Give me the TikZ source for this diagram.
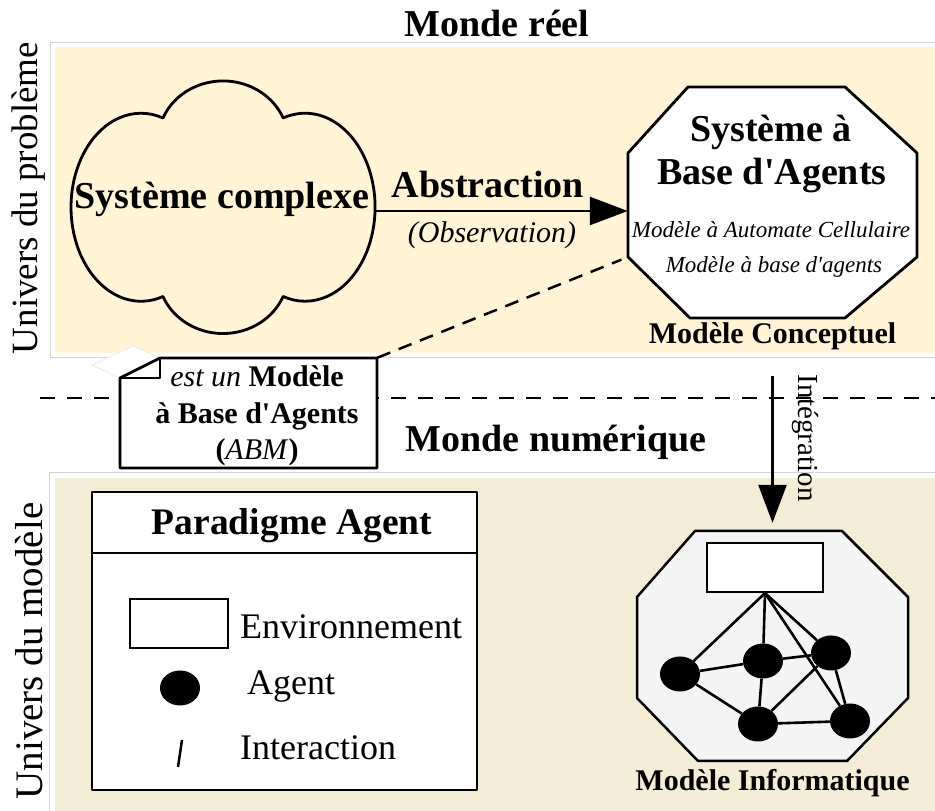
\documentclass[tikz,border=0pt]{standalone}
\usepackage{fontspec}
\setmainfont{Liberation Serif}[Ligatures=TeXOff]
\usetikzlibrary{positioning,arrows.meta,shapes.geometric}

\definecolor{reelband}{RGB}{255,244,214}
\definecolor{numband}{RGB}{243,236,215}
\definecolor{octfill}{RGB}{244,244,244}
\definecolor{bandedge}{RGB}{212,212,212}

\tikzset{
  titre/.style={font=\fontsize{38}{44}\selectfont\bfseries, inner sep=0pt},
  soustitre/.style={font=\fontsize{30}{36}\selectfont\bfseries, inner sep=0pt},
  legende/.style={font=\fontsize{36}{42}\selectfont, inner sep=0pt, anchor=base west},
  univers/.style={font=\fontsize{37}{42}\selectfont, inner sep=0pt, rotate=90},
  trait/.style={line width=2.8pt, line join=round},
  fleche/.style={line width=2.6pt, -{Triangle[length=38pt,width=28pt]}},
  agent/.style={ellipse, fill=black, minimum width=40pt, minimum height=35pt, inner sep=0pt},
  lien/.style={line width=2.6pt},
}

\begin{document}
\begin{tikzpicture}[x=1pt,y=1pt]
	\useasboundingbox (0,0) rectangle (935,811);

	% bandes
	\draw[bandedge, line width=1pt, fill=white] (50,453) rectangle (945,768);
	\fill[reelband] (55,458) rectangle (945,764);
	\draw[bandedge, line width=1pt, fill=white] (49,-10) rectangle (945,338);
	\fill[numband] (55,-10) rectangle (945,333);
	\draw[bandedge!60, line width=0.6pt, fill=white] (160,453) -- (133,465) -- (92,446) -- (120,433);

	\node[titre, anchor=base]				(reel)	at (497,774)	{Monde réel};
	\node[titre, anchor=base]				(num)	at (556,359)	{Monde numérique};
	\node[univers]							(uprob)	at (29,613)		{Univers du problème};
	\node[univers, font=\fontsize{39}{44}\selectfont]	(umod)	at (29,160)	{Univers du modèle};

	% separation
	\draw[line width=2pt, dash pattern=on 15pt off 12pt] (40,413) -- (935,413);

	% nuage
	\draw[trait] (163,693)
		arc[start angle=157.5, end angle=22.5, x radius=65, y radius=60]
		arc[start angle=108.3, end angle=-108.3, x radius=70, y radius=94]
		arc[start angle=337.5, end angle=202.5, x radius=65, y radius=60]
		arc[start angle=288.3, end angle=71.7, x radius=70, y radius=94] -- cycle;
	\node[titre, anchor=base]				(cmplx)	at (222,602)	{Système complexe};

	% modele conceptuel
	\draw[trait, fill=white] (688,724) -- (845,724) -- (917,658) -- (917,554) -- (845,493) -- (690,493) -- (628,554) -- (628,658) -- cycle;
	\node[minimum width=289pt, minimum height=231pt]	(sba)	at (772.5,608.5)	{};
	\coordinate (sbaSO) at (628,554);
	\node[titre, anchor=base]				(sba1)	at (771,669)	{Système à};
	\node[titre, anchor=base]				(sba2)	at (772,626)	{Base d'Agents};
	\node[font=\fontsize{23}{28}\selectfont\itshape, anchor=base, inner sep=0pt]	(mac)	at (771,573)	{Modèle à Automate Cellulaire};
	\node[font=\fontsize{23}{28}\selectfont\itshape, anchor=base, inner sep=0pt]	(mba)	at (774,538)	{Modèle à base d'agents};
	\node[soustitre, below=4pt of sba]		(mconc)					{Modèle Conceptuel};

	% abstraction
	\coordinate (nuageE) at (376,600);
	\draw[fleche] (nuageE) -- (nuageE -| sba.west);
	\node[titre, anchor=base]				(abs)	at (488,613)	{Abstraction};
	\node[font=\fontsize{30}{36}\selectfont\itshape, anchor=base, inner sep=0pt]	(obs)	at (492,568)	{(Observation)};

	% note ABM
	\node[minimum width=257pt, minimum height=110pt]	(abm)	at (248.5,398)	{};
	\draw[line width=2.5pt, dash pattern=on 14pt off 9pt, shorten >=7pt] (abm.north east) -- (sbaSO);
	\draw[trait, fill=white] (120,343) -- (120,433) -- (160,453) -- (377,453) -- (377,343) -- cycle;
	\draw[trait] (120,433) -- (160,433) -- (160,453);
	\node[align=center, font=\fontsize{30}{36.5}\selectfont, inner sep=0pt]	(abmtxt)	at (257,395)
		{\textit{est un} \textbf{Modèle}\\\textbf{à Base d'Agents}\\\textbf{(}\textit{ABM}\textbf{)}};

	% modele informatique
	\draw[line width=2.5pt, line join=round, fill=octfill] (695,280) -- (842,280) -- (908,214) -- (908,113) -- (847,50) -- (698,50) -- (637,113) -- (637,214) -- cycle;
	\node[minimum width=271pt, minimum height=230pt]	(mi)	at (772.5,165)	{};
	\node[draw, line width=2.2pt, fill=white, minimum width=116pt, minimum height=49pt]	(env)	at (765,243.5)	{};
	\node[agent]	(a1)	at (680,137)	{};
	\node[agent]	(a2)	at (763,150)	{};
	\node[agent]	(a3)	at (831,158)	{};
	\node[agent]	(a4)	at (758,87)		{};
	\node[agent]	(a5)	at (850,90)		{};
	\foreach \u/\v in {env.south/a1, env.south/a2, env.south/a3, env.south/a5, a1/a2, a1/a4, a2/a3, a2/a4, a3/a4, a3/a5, a4/a5}
		\draw[lien] (\u) -- (\v);
	\node[soustitre, below=8pt of mi]		(minfo)					{Modèle Informatique};

	% integration
	\draw[fleche, shorten <=26pt, shorten >=8pt] (mconc.south) -- (mconc.south |- mi.north);
	\node[font=\fontsize{29}{34}\selectfont, rotate=-90, inner sep=0pt]	(integ)	at (805,373)	{Intégration};

	% paradigme agent
	\draw[trait, fill=white] (92,21) rectangle (477,319);
	\draw[trait] (92,258) -- (477,258);
	\node[font=\fontsize{37.5}{44}\selectfont\bfseries, anchor=base, inner sep=0pt]	(parad)	at (292,276)	{Paradigme Agent};
	\node[draw, line width=2.2pt, fill=white, minimum width=98pt, minimum height=49pt]	(envleg)	at (179,187.5)	{};
	\node[legende]	(envtxt)	at (240,172)	{Environnement};
	\node[agent]	(agleg)		at (180,123)	{};
	\node[legende]	(agtxt)		at (247,116)	{Agent};
	\coordinate (int1) at (182,71);
	\coordinate (int2) at (178,44);
	\draw[line width=2.5pt] (int1) -- (int2);
	\node[legende]	(inttxt)	at (240,51)		{Interaction};
\end{tikzpicture}
\end{document}
